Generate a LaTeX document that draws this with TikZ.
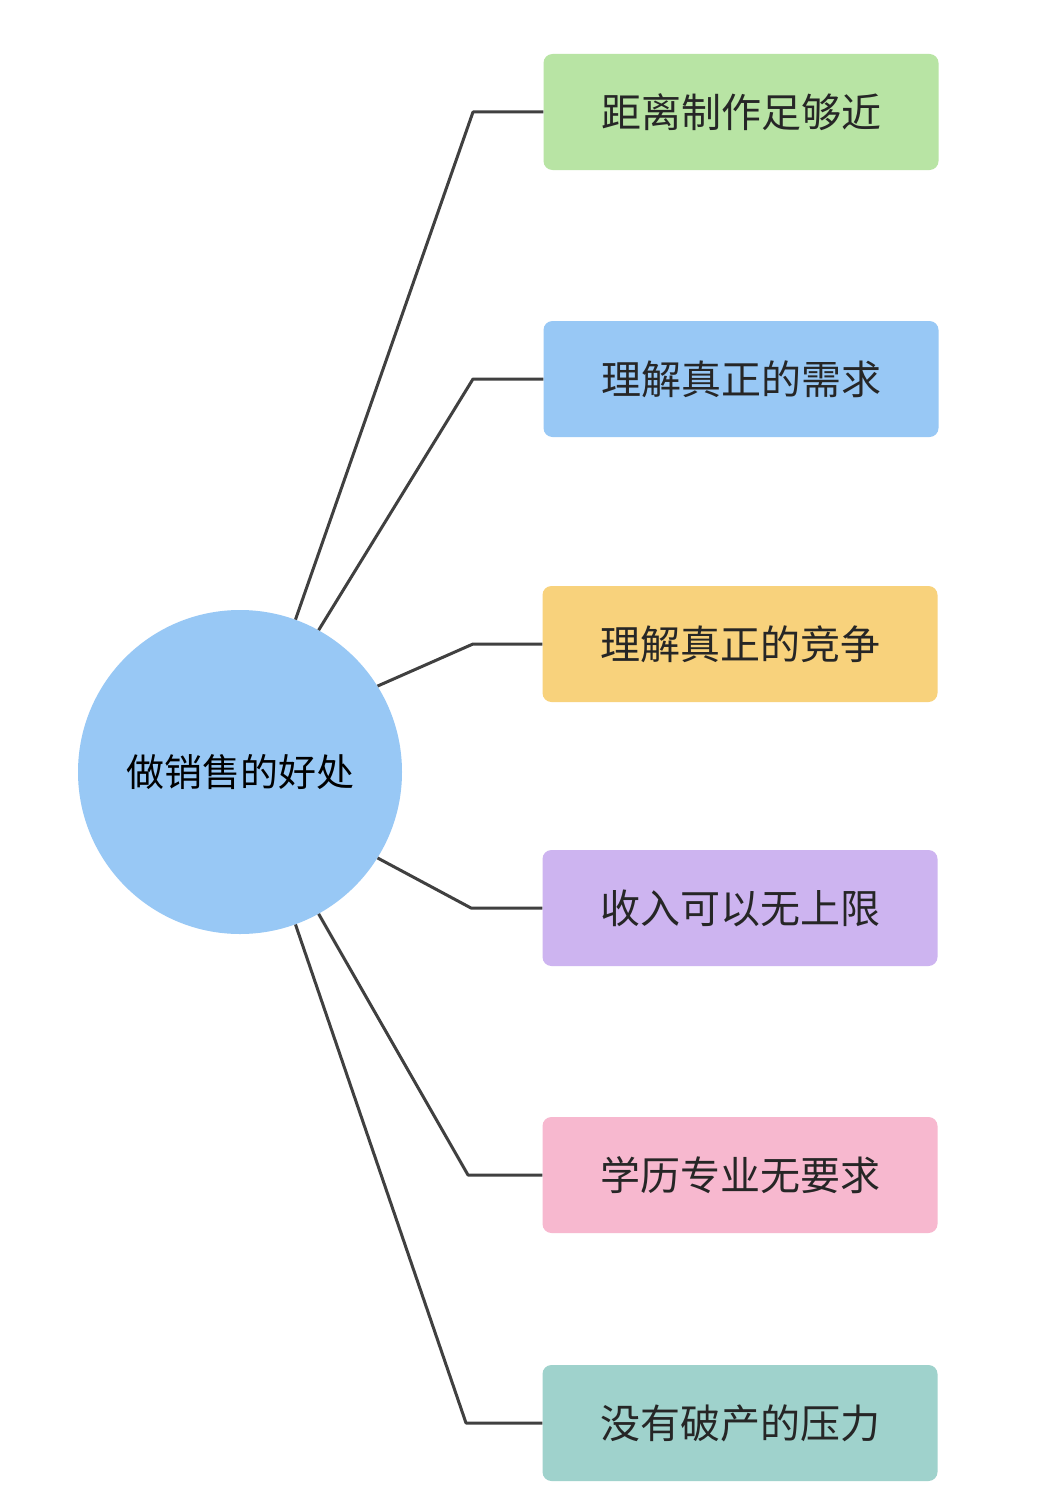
\documentclass[tikz,border=0pt]{standalone}
\usepackage{fontspec}
\setmainfont{Noto Sans CJK SC}
\begin{document}
\begin{tikzpicture}[x=1pt,y=-1pt,
  box/.style={rounded corners=9pt,minimum width=395pt,minimum height=116pt,inner sep=0pt,font=\fontsize{40}{44}\selectfont,text=black!85},
  link/.style={line width=3pt,draw=black!75,line join=round}]
\useasboundingbox (0,0) rectangle (1042,1509);
\fill[white] (0,0) rectangle (1042,1509);
\node[circle,fill=blue!40!cyan!25!white,fill={rgb,255:red,152;green,200;blue,245},minimum size=324pt,inner sep=0pt,font=\fontsize{38}{42}\selectfont] (c) at (240,772) {做销售的好处};
\node[box,fill={rgb,255:red,184;green,228;blue,164}] (b1) at (741,112) {距离制作足够近};
\node[box,fill={rgb,255:red,152;green,200;blue,245}] (b2) at (741,379) {理解真正的需求};
\node[box,fill={rgb,255:red,248;green,210;blue,124}] (b3) at (740,644) {理解真正的竞争};
\node[box,fill={rgb,255:red,205;green,180;blue,240}] (b4) at (740,908) {收入可以无上限};
\node[box,fill={rgb,255:red,247;green,184;blue,207}] (b5) at (740,1175) {学历专业无要求};
\node[box,fill={rgb,255:red,159;green,210;blue,204}] (b6) at (740,1423) {没有破产的压力};
\draw[link] (c.{180-110}) -- (473,112) -- (b1.west);
\draw[link] (c.{180-118.5}) -- (473,379) -- (b2.west);
\draw[link] (c.{180-148}) -- (473,644) -- (b3.west);
\draw[link] (c.{180+148}) -- (471,908) -- (b4.west);
\draw[link] (c.{180+119}) -- (468,1175) -- (b5.west);
\draw[link] (c.{180+110}) -- (466,1423) -- (b6.west);
\end{tikzpicture}
\end{document}
